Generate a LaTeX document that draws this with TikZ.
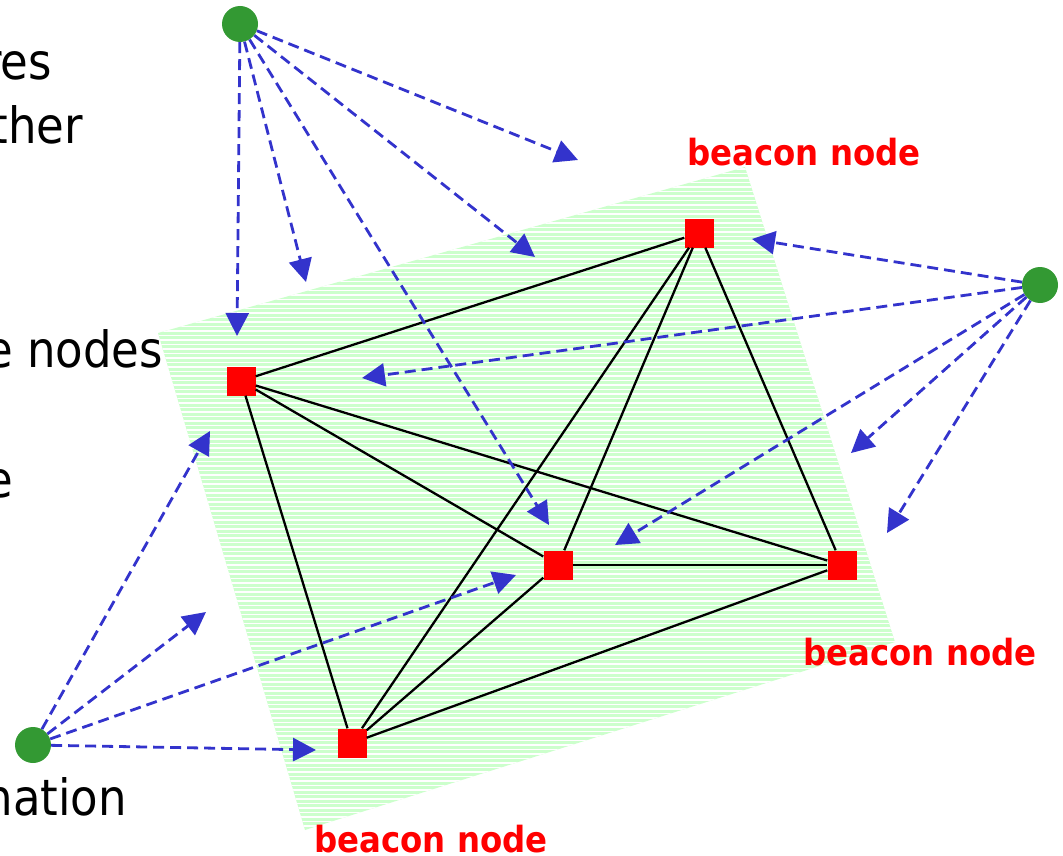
\documentclass[tikz,border=0pt]{standalone}
\usepackage{fontspec}
\setmainfont{DejaVu Sans Condensed}
\usetikzlibrary{arrows.meta}
\definecolor{arrowblue}{RGB}{51,51,204}
\definecolor{nodegreen}{RGB}{51,153,51}
\definecolor{areagreen}{RGB}{204,255,204}
\begin{document}
\begin{tikzpicture}[x=1pt,y=-1pt,
  beacon/.style={draw=none,fill=red,rectangle,minimum size=29pt,inner sep=0pt},
  unknown/.style={circle,fill=nodegreen,minimum size=36pt,inner sep=0pt},
  link/.style={black,line width=2.3pt},
  signal/.style={arrowblue,line width=2.8pt,dash pattern=on 11pt off 6pt,-{Triangle[length=23pt,width=23pt]}},
  sidetext/.style={anchor=base east,inner sep=0pt,font=\fontsize{50}{60}\selectfont},
  beaconlabel/.style={anchor=base,inner sep=0pt,text=red,font=\fontsize{36}{40}\selectfont\bfseries}]
\useasboundingbox (0,0) rectangle (1063,856);

% shaded area
\begin{scope}
  \clip (158,333) -- (745,167) -- (895,642) -- (305,830) -- cycle;
  \fill[areagreen] (150,160) rectangle (900,835);
  \foreach \yy in {160,164.5,...,835} \draw[white,line width=1.1pt] (150,\yy) -- (900,\yy);
\end{scope}

% left text fragments
\node[sidetext] (s1) at (52,80) {res};
\node[sidetext] (s2) at (83,143) {ther};
\node[sidetext] (s3) at (163,367) {e nodes};
\node[sidetext] (s4) at (13,497) {e};
\node[sidetext] (s5) at (127,815) {nation};

% beacon nodes
\node[beacon] (a) at (241,381) {};
\node[beacon] (b) at (699,233) {};
\node[beacon] (c) at (558,565) {};
\node[beacon] (d) at (842,565) {};
\node[beacon] (e) at (352,743) {};

% unknown nodes
\node[unknown] (g1) at (240,24) {};
\node[unknown] (g2) at (1040,285) {};
\node[unknown] (g3) at (33,745) {};

% links
\draw[link] (a) -- (b);
\draw[link] (a) -- (c);
\draw[link] (a) -- (d);
\draw[link] (a) -- (e);
\draw[link] (b) -- (c);
\draw[link] (b) -- (d);
\draw[link] (b) -- (e);
\draw[link] (c) -- (d);
\draw[link] (c) -- (e);
\draw[link] (d) -- (e);

% arrow targets
\coordinate (t11) at (237,336);
\coordinate (t12) at (306,282);
\coordinate (t13) at (549,525);
\coordinate (t14) at (535,257);
\coordinate (t15) at (578,160);
\coordinate (t21) at (752,239);
\coordinate (t22) at (362,378);
\coordinate (t23) at (615,545);
\coordinate (t24) at (851,453);
\coordinate (t25) at (887,533);
\coordinate (t31) at (210,431);
\coordinate (t32) at (206,612);
\coordinate (t33) at (516,575);
\coordinate (t34) at (316,750);

\foreach \t in {t11,t12,t13,t14,t15} \draw[signal] (g1) -- (\t);
\foreach \t in {t21,t22,t23,t24,t25} \draw[signal] (g2) -- (\t);
\foreach \t in {t31,t32,t33,t34} \draw[signal] (g3) -- (\t);

% labels
\node[beaconlabel] (lb1) at (804,165) {beacon node};
\node[beaconlabel] (lb2) at (920,665) {beacon node};
\node[beaconlabel] (lb3) at (431,852) {beacon node};
\end{tikzpicture}
\end{document}
